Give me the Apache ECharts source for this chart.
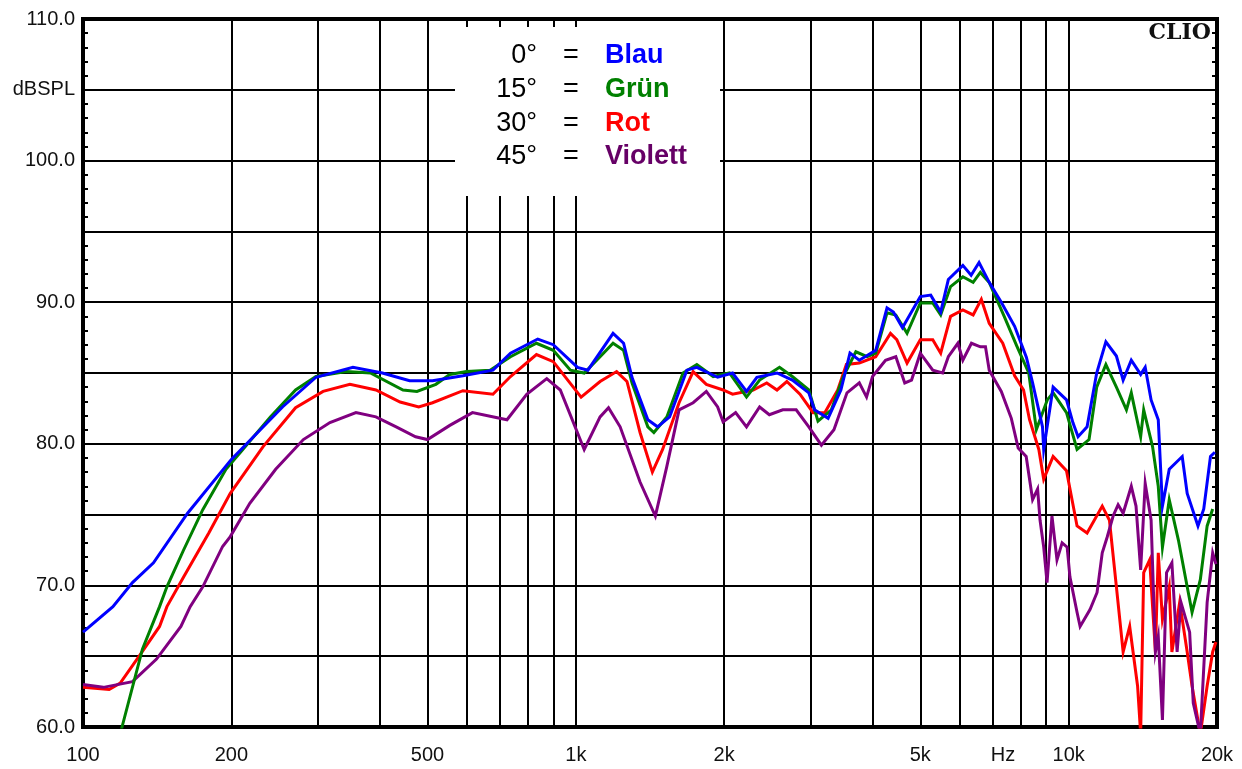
<!DOCTYPE html>
<html>
<head>
<meta charset="utf-8">
<script src="https://cdn.jsdelivr.net/npm/echarts@6/dist/echarts.min.js"></script>
<style>
html, body { margin: 0; padding: 0; background: #fff; }
#chart { width: 1242px; height: 769px; }
</style>
</head>
<body>
<div id="chart"></div>
<script>
// Frequency grid (Hz) and labelled positions on the log frequency axis
const gridFreqs = [100, 200, 300, 400, 500, 600, 700, 800, 900,
  1000, 2000, 3000, 4000, 5000, 6000, 7000, 8000, 9000, 10000, 20000];
const labelFreqs = [100, 200, 500, 1000, 2000, 5000, 7360, 10000, 20000];
const labelTexts = ['100', '200', '500', '1k', '2k', '5k', 'Hz', '10k', '20k'];

// Level axis (dB SPL)
const yTickValues = [60, 70, 80, 90, 100, 105, 110];
const yTickTexts = ['60.0', '70.0', '80.0', '90.0', '100.0', 'dBSPL', '110.0'];

// 0° on axis
const blauFreq = [100, 115, 126, 139, 163, 200, 254, 297, 353, 405, 460, 512, 590, 679, 737, 837, 900, 1008, 1058, 1190, 1250, 1300, 1400, 1465, 1550, 1680, 1760, 1940, 2080, 2220, 2330, 2560, 2750, 2970, 3050, 3250, 3450, 3600, 3760, 4060, 4280, 4410, 4600, 5000, 5250, 5500, 5700, 6100, 6340, 6580, 6900, 7300, 7770, 8210, 8450, 8850, 8900, 9300, 9900, 10200, 10450, 10900, 11400, 11900, 12500, 12900, 13400, 14000, 14300, 14700, 15200, 15500, 16000, 17000, 17400, 18300, 18800, 19400, 19800];
const blauDb = [66.7, 68.5, 70.2, 71.6, 75.1, 78.9, 82.6, 84.7, 85.4, 85.0, 84.45, 84.45, 84.8, 85.2, 86.4, 87.4, 87.0, 85.4, 85.2, 87.8, 87.1, 84.7, 81.7, 81.2, 81.9, 85.2, 85.4, 84.7, 85.0, 83.7, 84.7, 85.0, 84.5, 83.6, 82.4, 81.8, 83.8, 86.4, 85.9, 86.6, 89.6, 89.3, 88.2, 90.4, 90.5, 89.3, 91.6, 92.6, 91.9, 92.8, 91.4, 90.0, 88.3, 86.1, 84.3, 81.2, 79.6, 84.0, 83.1, 81.5, 80.5, 81.2, 85.0, 87.2, 86.2, 84.5, 85.9, 84.9, 85.4, 83.1, 81.7, 75.6, 78.2, 79.1, 76.5, 74.2, 75.4, 79.1, 79.4];

// 15°
const gruenFreq = [116, 120, 132, 143, 148, 160, 175, 195, 211, 240, 270, 297, 342, 383, 446, 476, 520, 555, 600, 670, 737, 832, 900, 975, 1040, 1120, 1190, 1250, 1300, 1400, 1440, 1530, 1650, 1760, 1900, 2050, 2220, 2360, 2590, 2750, 2970, 3100, 3300, 3490, 3700, 3900, 4060, 4280, 4460, 4700, 5000, 5300, 5500, 5760, 6100, 6400, 6620, 6900, 7400, 7850, 8300, 8600, 9050, 9300, 9900, 10400, 11000, 11400, 11900, 12500, 13100, 13400, 14000, 14200, 14800, 15200, 15500, 16000, 16700, 17400, 17800, 18500, 19100, 19600];
const gruenDb = [58.0, 60.0, 65.5, 68.5, 69.9, 72.5, 75.35, 78.2, 79.6, 81.9, 83.8, 84.75, 85.1, 85.0, 83.8, 83.7, 84.2, 84.9, 85.1, 85.2, 86.15, 87.1, 86.6, 85.2, 85.0, 86.15, 87.1, 86.6, 84.3, 81.2, 80.8, 81.9, 85.0, 85.6, 84.75, 85.0, 83.3, 84.5, 85.4, 84.75, 83.8, 81.6, 82.4, 84.75, 86.5, 86.15, 86.4, 89.25, 89.1, 87.8, 89.95, 89.95, 89.1, 91.1, 91.8, 91.4, 92.1, 91.4, 89.0, 86.9, 85.0, 81.0, 83.1, 83.6, 82.2, 79.6, 80.3, 84.0, 85.6, 84.0, 82.4, 83.6, 80.5, 82.4, 79.8, 77.0, 72.7, 76.05, 73.2, 69.9, 68.1, 70.4, 74.2, 75.4];

// 30°
const rotFreq = [100, 113, 119, 130, 143, 148, 160, 180, 199, 232, 270, 307, 348, 393, 440, 480, 512, 590, 679, 737, 832, 900, 1025, 1120, 1210, 1270, 1350, 1430, 1500, 1620, 1730, 1840, 1990, 2080, 2290, 2440, 2560, 2680, 2850, 3030, 3200, 3400, 3540, 3760, 4060, 4350, 4480, 4700, 5000, 5300, 5500, 5760, 6100, 6400, 6650, 6900, 7350, 7770, 8100, 8330, 8700, 8900, 9300, 9900, 10400, 10900, 11700, 12100, 12500, 12900, 13300, 13800, 14000, 14200, 14600, 15000, 15200, 15500, 16000, 16200, 16800, 17400, 17800, 18500, 19100, 19600, 19900];
const rotDb = [62.8, 62.65, 63.1, 65.0, 67.1, 68.5, 70.6, 73.7, 76.5, 79.8, 82.55, 83.7, 84.2, 83.8, 82.95, 82.6, 82.9, 83.75, 83.5, 84.75, 86.3, 85.8, 83.3, 84.4, 85.1, 84.4, 80.8, 78.0, 79.6, 82.9, 85.1, 84.2, 83.8, 83.5, 83.8, 84.3, 83.8, 84.4, 83.5, 82.2, 82.2, 83.8, 85.6, 85.7, 86.15, 87.8, 87.35, 85.7, 87.35, 87.35, 86.4, 89.0, 89.45, 89.1, 90.2, 88.5, 87.1, 84.8, 83.8, 81.7, 79.6, 77.5, 79.1, 78.1, 74.2, 73.7, 75.6, 74.6, 69.9, 65.3, 67.1, 62.9, 59.5, 70.9, 71.8, 65.3, 72.3, 67.6, 69.9, 65.3, 68.8, 65.3, 62.9, 59.5, 62.9, 65.3, 66.0];

// 45°
const violettFreq = [100, 110, 126, 141, 158, 165, 175, 192, 199, 218, 246, 280, 317, 358, 393, 432, 473, 500, 555, 617, 725, 795, 873, 930, 1040, 1120, 1165, 1230, 1350, 1450, 1530, 1620, 1730, 1840, 1940, 1990, 2110, 2220, 2360, 2470, 2630, 2800, 2970, 3150, 3340, 3550, 3760, 3890, 4000, 4250, 4460, 4650, 4800, 5000, 5300, 5550, 5700, 5960, 6100, 6350, 6620, 6780, 6900, 7300, 7650, 7900, 8200, 8450, 8650, 8750, 8900, 9040, 9250, 9470, 9700, 9930, 10060, 10400, 10550, 11050, 11420, 11700, 11970, 12310, 12600, 12900, 13400, 13700, 14000, 14300, 14700, 15000, 15200, 15500, 15800, 16200, 16600, 16900, 17600, 17900, 18500, 19100, 19600, 19900];
const violettDb = [63.0, 62.8, 63.2, 64.8, 67.1, 68.5, 69.9, 72.75, 73.45, 75.8, 78.2, 80.3, 81.5, 82.2, 81.9, 81.2, 80.5, 80.3, 81.3, 82.2, 81.7, 83.5, 84.6, 83.8, 79.6, 81.9, 82.55, 81.2, 77.3, 74.9, 78.4, 82.4, 82.9, 83.7, 82.6, 81.55, 82.2, 81.2, 82.6, 82.05, 82.4, 82.4, 81.2, 79.9, 81.0, 83.6, 84.3, 83.3, 84.75, 85.9, 86.15, 84.3, 84.5, 86.4, 85.2, 85.0, 86.15, 87.1, 85.9, 87.1, 86.85, 86.85, 85.2, 83.7, 81.8, 79.7, 79.1, 76.05, 76.8, 74.6, 72.7, 70.2, 74.9, 71.8, 73.0, 72.7, 70.6, 68.1, 67.1, 68.3, 69.5, 72.3, 73.4, 74.9, 75.7, 75.1, 77.0, 75.6, 71.1, 77.2, 74.6, 65.3, 66.4, 60.5, 70.9, 71.6, 65.3, 68.8, 66.7, 61.7, 59.5, 68.8, 72.3, 71.5];

// Legend rows
const legendAngles = ['0°', '15°', '30°', '45°'];
const legendNames = ['Blau', 'Grün', 'Rot', 'Violett'];
const legendColors = ['#0000ff', '#008000', '#ff0000', '#660066'];

const lg = Math.log10;
const toPoints = (freqs, dbs) => freqs.map((f, i) => [lg(f), dbs[i]]);

function labelFor(v, values, texts) {
  for (let i = 0; i < values.length; i++) {
    if (Math.abs(values[i] - v) < 1e-6) return texts[i];
  }
  return '';
}

const labelFont = { fontFamily: 'Liberation Sans, Arial, sans-serif', fontSize: 20, color: '#111' };

function yAxisCommon(pos, showLabels) {
  return {
    type: 'value',
    position: pos,
    min: 60, max: 110, interval: 5,
    axisLine: { show: false },
    axisTick: { show: true, inside: true, length: 5, lineStyle: { color: '#000', width: 2 } },
    minorTick: { show: true, splitNumber: 5, length: 5, lineStyle: { color: '#000', width: 2 } },
    splitLine: { show: showLabels, lineStyle: { color: '#000', width: 2 } },
    axisLabel: {
      show: showLabels,
      margin: 8,
      ...labelFont,
      customValues: yTickValues,
      formatter: v => labelFor(v, yTickValues, yTickTexts)
    }
  };
}

const series = [
  { name: 'Rot', freq: rotFreq, db: rotDb, color: '#ff0000' },
  { name: 'Violett', freq: violettFreq, db: violettDb, color: '#800080' },
  { name: 'Grün', freq: gruenFreq, db: gruenDb, color: '#008000' },
  { name: 'Blau', freq: blauFreq, db: blauDb, color: '#0000ff' }
].map(s => ({
  name: s.name,
  type: 'line',
  data: toPoints(s.freq, s.db),
  showSymbol: false,
  symbol: 'none',
  clip: true,
  z: 5,
  lineStyle: { color: s.color, width: 3, join: 'miter' },
  itemStyle: { color: s.color }
}));

const graphic = [
  { type: 'rect', shape: { x: 455, y: 27, width: 265, height: 169 }, style: { fill: '#fff' }, z: 50 },
  { type: 'text', z: 60, style: { x: 1211, y: 33, text: 'CLIO', textAlign: 'right', textVerticalAlign: 'middle',
      font: 'bold 22px "DejaVu Serif", serif', fill: '#111' } }
];
legendAngles.forEach((a, i) => {
  const y = 56 + i * 33.6;
  graphic.push({ type: 'text', z: 60, style: { x: 537, y: y, text: a, textAlign: 'right', textVerticalAlign: 'middle',
    font: '27px "Liberation Sans", Arial, sans-serif', fill: '#000' } });
  graphic.push({ type: 'text', z: 60, style: { x: 571, y: y, text: '=', textAlign: 'center', textVerticalAlign: 'middle',
    font: '27px "Liberation Sans", Arial, sans-serif', fill: '#000' } });
  graphic.push({ type: 'text', z: 60, style: { x: 605, y: y, text: legendNames[i], textAlign: 'left', textVerticalAlign: 'middle',
    font: 'bold 27px "Liberation Sans", Arial, sans-serif', fill: legendColors[i] } });
});

const chart = echarts.init(document.getElementById('chart'), null, { renderer: 'canvas' });
chart.setOption({
  animation: false,
  backgroundColor: '#fff',
  grid: { left: 83, top: 19, right: 25, bottom: 42, show: true, borderColor: '#000', borderWidth: 4, backgroundColor: 'transparent' },
  xAxis: {
    type: 'value',
    min: 2,
    max: lg(20000),
    axisLine: { show: false },
    axisTick: { show: false, customValues: gridFreqs.map(lg) },
    splitLine: { show: true, lineStyle: { color: '#000', width: 2 } },
    axisLabel: {
      margin: 18,
      ...labelFont,
      customValues: labelFreqs.map(lg),
      formatter: v => labelFor(v, labelFreqs.map(lg), labelTexts)
    }
  },
  yAxis: [yAxisCommon('left', true), yAxisCommon('right', false)],
  series: series,
  graphic: graphic
});
</script>
</body>
</html>
